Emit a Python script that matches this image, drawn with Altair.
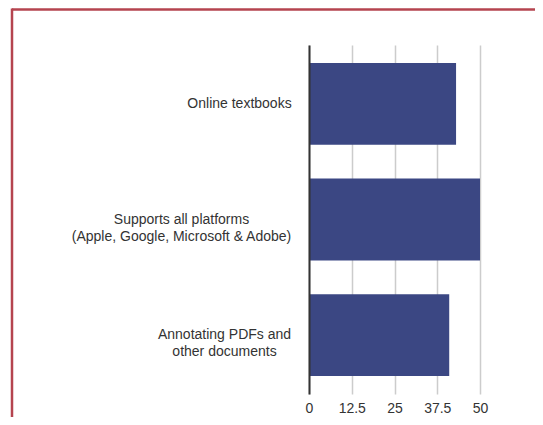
import altair as alt
import pandas as pd

categories = [
    "Online textbooks",
    "Supports all platforms\n(Apple, Google, Microsoft & Adobe)",
    "Annotating PDFs and\nother documents",
]
values = [43, 50, 41]
x_ticks = [0, 12.5, 25, 37.5, 50]
label_dx = [-69.5, -127.5, -84.5]

df = pd.DataFrame({"cat": categories, "value": values})

W, H = 171, 349
PAD = {"left": 301, "top": 37, "right": 55, "bottom": 23}
FONT = "Liberation Sans"
BORDER = "#b5444f"

y_enc = alt.Y(
    "cat:N",
    sort=categories,
    scale=alt.Scale(paddingInner=0.293, paddingOuter=0.155),
    axis=alt.Axis(labels=False, ticks=False, domain=True, domainColor="#333333",
                  domainWidth=2, grid=False, title=None, zindex=1),
)

bars = alt.Chart(df).mark_bar(color="#3b4783").encode(
    x=alt.X(
        "value:Q",
        scale=alt.Scale(domain=[0, 50], nice=False),
        axis=alt.Axis(values=x_ticks, format=".1~f", grid=True, gridColor="#cccccc",
                      gridWidth=1.5, domain=False, ticks=False, labelFont=FONT,
                      labelFontSize=14, labelColor="#333333", labelPadding=7,
                      labelFlush=False, title=None),
    ),
    y=y_enc,
)

layers = [bars]
for cat, dx in zip(categories, label_dx):
    layers.append(
        alt.Chart(df)
        .transform_filter(alt.datum.cat == cat)
        .mark_text(align="center", baseline="middle", dx=dx, lineBreak="\n",
                   lineHeight=17, font=FONT, fontSize=14, color="#333333")
        .encode(x=alt.value(0), y=alt.Y("cat:N", sort=categories), text="cat:N")
    )

border_data = alt.Data(values=[{}])
top_line = alt.Chart(border_data).mark_rule(color=BORDER, strokeWidth=2.5).encode(
    x=alt.value(-PAD["left"] + 4), x2=alt.value(W + PAD["right"]), y=alt.value(-PAD["top"] + 1.5)
)
left_line = alt.Chart(border_data).mark_rule(color=BORDER, strokeWidth=2.5).encode(
    x=alt.value(-PAD["left"] + 4), y=alt.value(-PAD["top"] + 0.5), y2=alt.value(H + PAD["bottom"])
)
layers += [top_line, left_line]

chart = alt.layer(*layers).properties(
    width=W, height=H,
    autosize=alt.AutoSizeParams(type="none"),
    padding=PAD,
).configure_view(stroke=None)

chart.save("out.html", embed_options={"renderer": "svg", "actions": False})
